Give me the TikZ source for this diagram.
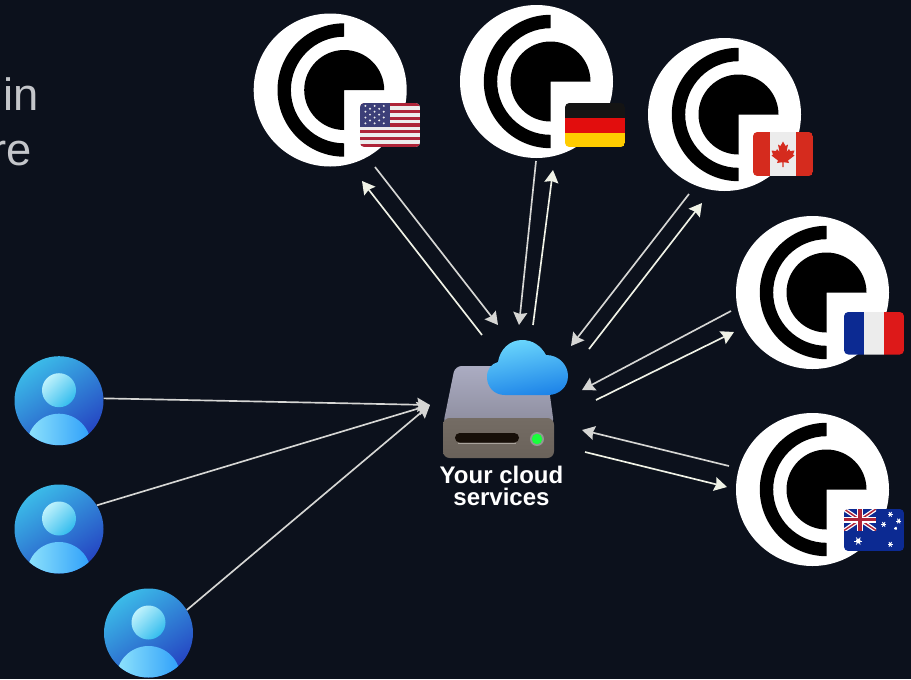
\documentclass[tikz,border=0pt]{standalone}
\usepackage{fontspec}
\setmainfont{Liberation Sans}
\usetikzlibrary{arrows.meta}
\definecolor{bgdark}{HTML}{0C111C}
\definecolor{wirecol}{HTML}{D6D6D4}
\definecolor{wirelit}{HTML}{F0F2E6}
\definecolor{sidetext}{HTML}{C4C6CA}
\definecolor{ustop}{HTML}{3BBAE8}
\definecolor{usmid}{HTML}{1E8AD4}
\definecolor{usbot}{HTML}{2544C2}
\definecolor{usbodyl}{HTML}{8FE3FB}
\definecolor{usbodym}{HTML}{52CDF9}
\definecolor{usbodyr}{HTML}{2E9FFA}
\definecolor{usheadt}{HTML}{BFF2FC}
\definecolor{usheadb}{HTML}{33BCEE}
\definecolor{cloudt}{HTML}{6AD6FC}
\definecolor{cloudm}{HTML}{36B4FA}
\definecolor{cloudb}{HTML}{1E84E8}
\definecolor{drivet}{HTML}{ABACC2}
\definecolor{driveb}{HTML}{8D8D9E}
\definecolor{frontt}{HTML}{746C64}
\definecolor{frontm}{HTML}{857C72}
\definecolor{frontb}{HTML}{6A625A}
\definecolor{flagred}{HTML}{D52B1E}
\definecolor{flagwhite}{HTML}{ECECEC}
\definecolor{flagblue}{HTML}{0C2A92}
\definecolor{usred}{HTML}{AE2438}
\definecolor{usblue}{HTML}{3C3F78}
\tikzset{
  wire/.style={draw=wirecol, line width=1.25pt, -{Stealth[length=9.5pt,width=10.5pt,inset=1.2pt]}},
  wirelight/.style={wire, draw=wirelit},
  logodisc/.style={circle, fill=white, minimum size=114.75pt, inner sep=0pt},
  userdisc/.style={circle, minimum size=66.75pt, inner sep=0pt, top color=ustop, middle color=usmid, bottom color=usbot, shading angle=35},
  flagclip/.style={rounded corners=3.2pt},
  sidelabel/.style={anchor=base west, inner sep=0pt, text=sidetext, font=\fontsize{34}{40}\selectfont},
}
\begin{document}
\begin{tikzpicture}[x=0.75pt, y=-0.75pt]
\fill[bgdark] (0,0) rectangle (911,679);
\useasboundingbox (0,0) rectangle (911,679);
% left over text
\node[sidelabel] (tin) at (3,110.7) {in};
\node[sidelabel] (tre) at (-9,165) {re};
% relay logos
\foreach \n/\x/\y in {us/330.2/90, de/536.5/81.5, ca/724.5/114.5, fr/812.5/292.5, au/812.5/489.5} {
\begin{scope}[shift={(\x,\y)}]
    \node[logodisc] (\n) at (0,0) {};
    \fill[black] (14,66.7) arc[start angle=90, end angle=270, radius=66.7] -- ++(0,13.4) arc[start angle=270, end angle=90, radius=53.3] -- cycle;
    \fill[black] (14,0) -- (14,40) arc[start angle=90, end angle=360, radius=40] -- cycle;
\end{scope}
}
% flags
\begin{scope}[shift={(360,103)}]
    \clip[flagclip] (0,0) rectangle (60,44);
    \fill[flagwhite] (0,0) rectangle (60,44);
    \foreach \i in {0,2,...,12}
        \fill[usred] (0,{\i*44/13}) rectangle (60,{(\i+1)*44/13});
    \fill[usblue] (0,0) rectangle (29.5,23.7);
    \foreach \i in {1,3,5} \foreach \j in {1,3,5,7}
        \fill[flagwhite] ({\i*4.6+0.8},{\j*2.9}) circle[radius=1.1];
    \foreach \i in {2,4} \foreach \j in {2,4,6}
        \fill[flagwhite] ({\i*4.6+0.8},{\j*2.9}) circle[radius=1.1];
\end{scope}
\begin{scope}[shift={(565,103)}]
    \clip[flagclip] (0,0) rectangle (60,44);
    \fill[black!92] (0,0) rectangle (60,15);
    \fill[red!88!black!95!white] (0,15) rectangle (60,30);
    \fill[orange!40!yellow] (0,30) rectangle (60,44);
\end{scope}
\begin{scope}[shift={(753,132)}]
    \begin{scope}
    \clip[flagclip] (0,0) rectangle (60,44);
    \fill[flagred] (0,0) rectangle (60,44);
    \fill[flagwhite] (16.7,0) rectangle (43.3,44);
    \end{scope}
    \fill[flagred, shift={(30,22)}] (0,-12.5) -- (-2.5,-8) -- (-5,-9.5) -- (-3.5,-2) -- (-6,-5) -- (-7,-3) -- (-11.5,-3.5) -- (-10,0.5) -- (-11.5,1.5) -- (-5,6.5) -- (-6,9) -- (-0.7,8.2) -- (-0.7,13) -- (0.7,13) -- (0.7,8.2) -- (6,9) -- (5,6.5) -- (11.5,1.5) -- (10,0.5) -- (11.5,-3.5) -- (7,-3) -- (6,-5) -- (3.5,-2) -- (5,-9.5) -- (2.5,-8) -- cycle;
\end{scope}
\begin{scope}[shift={(844,312)}]
    \clip[flagclip] (0,0) rectangle (60,42.5);
    \fill[flagblue] (0,0) rectangle (20,42.5);
    \fill[flagwhite] (20,0) rectangle (40,42.5);
    \fill[red!85!black!90!white] (40,0) rectangle (60,42.5);
\end{scope}
\begin{scope}[shift={(844,509)}]
    \clip[flagclip] (0,0) rectangle (60,42);
    \fill[flagblue] (0,0) rectangle (60,42);
    \begin{scope}
    \clip (0,0) rectangle (32,21.5);
    \draw[white, line width=3pt] (0,0) -- (32,21.5) (0,21.5) -- (32,0);
    \draw[usred, line width=1.1pt] (0,0) -- (32,21.5) (0,21.5) -- (32,0);
    \draw[white, line width=4.5pt] (16,0) -- (16,21.5) (0,10.75) -- (32,10.75);
    \draw[usred, line width=2.6pt] (16,0) -- (16,21.5) (0,10.75) -- (32,10.75);
    \end{scope}
    \foreach \sx/\sy/\sr in {14.3/32/2.4, 46.3/5.3/1.6, 54.7/12/1.6, 39.7/15.3/1.6, 51.7/19.3/0.9, 46.3/35.3/1.6} {
        \fill[white] (\sx,\sy) circle[radius=\sr];
        \foreach \a in {0,60,120}
            \draw[white, line width=0.6pt] (\sx,\sy) +(\a:\sr*1.7) -- +(\a+180:\sr*1.7);
    }
\end{scope}
% users
\foreach \n/\x/\y in {u1/59/400.7, u2/59/529, u3/148.5/633} {
    \node[userdisc] (\n) at (\x,\y) {};
    \begin{scope}
    \clip (\x,\y) circle[radius=44.5];
    \shade[left color=usbodyl, middle color=usbodym, right color=usbodyr] (\x,\y+45) circle[radius=32];
    \end{scope}
    \shade[top color=usheadt, bottom color=usheadb, shading angle=45] (\x,\y-10.5) circle[radius=17];
}
% drive
\shade[top color=drivet, bottom color=driveb, rounded corners=5pt] (455,366) -- (546,366) -- (554,425) -- (443,425) -- cycle;
\shade[top color=frontt, middle color=frontm, bottom color=frontb, rounded corners=5pt] (443,418) rectangle (554,458);
\fill[black!88!brown, rounded corners=3.5pt] (455,433) rectangle (519,442.5);
\draw[frontm!70!white, line width=0.5pt] (458,443.3) -- (516,443.3);
\fill[black!42] (537,439) circle[radius=7];
\fill[green!85!cyan!90!white] (537,439) circle[radius=5.3];
% cloud
\shade[top color=cloudt, middle color=cloudm, bottom color=cloudb, shading angle=10] (505,395) .. controls (494,395) and (487,387) .. (487,377) .. controls (487,369) and (491,364) .. (498,362) .. controls (500,349) and (510,340) .. (522,340) .. controls (533,340) and (541,346) .. (546,355) .. controls (559,355) and (568,365) .. (568,376) .. controls (568,387) and (559,395) .. (548,395) -- cycle;
\node[align=center, inner sep=0pt, text=white, font=\fontsize{18}{16.5}\selectfont\bfseries] (lbl) at (501.5,486) {Your cloud\\services};
% end points
\foreach \n/\x/\y in {hub/430/405, a1/482/335, a2/362/181, b1/375/167, b2/498/325, c1/536/161, c2/519/325, d1/533/325, d2/553/170, e1/689/194, e2/571/346, f1/589/349, f2/702/203, g1/731/311, g2/582/390, h1/596/400, h2/734/332, i1/729/466, i2/582/430, j1/585/452, j2/727/487}
    \coordinate (\n) at (\x,\y);
\foreach \from/\to in {b1/b2, c1/c2, e1/e2, g1/g2, i1/i2, u1.3/hub, u2.32/hub, u3.31/hub}
    \draw[wire] (\from) -- (\to);
\foreach \from/\to in {a1/a2, d1/d2, f1/f2, h1/h2, j1/j2}
    \draw[wirelight] (\from) -- (\to);
\end{tikzpicture}
\end{document}
